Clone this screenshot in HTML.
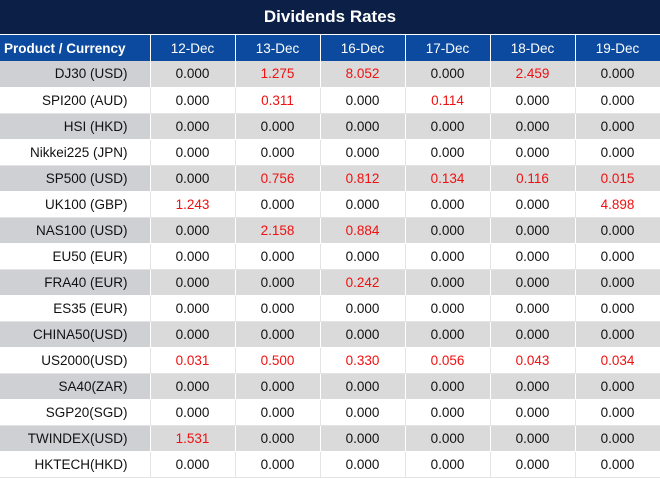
<!DOCTYPE html><html><head><style>
body{margin:0;width:660px;height:478px;overflow:hidden;background:#fff;font-family:"Liberation Sans",sans-serif;}
.t{height:34px;background:#0b1f47;color:#fff;font-weight:bold;font-size:17px;text-align:center;line-height:34px;border-bottom:1px solid #fff}
table{border-collapse:collapse;table-layout:fixed;width:660px}
td{height:26px;padding:0;border-right:1px solid #e4e4e4;border-bottom:1px solid #e4e4e4;text-align:center;font-size:13.5px;color:#111;box-sizing:border-box}
tr.h td{background:#0b4a9e;color:#fff;border-right:1px solid #fff;border-bottom:0;height:26px}
tr.h td:first-child{font-weight:bold;text-align:left;padding-left:4px}
td:first-child{text-align:right;padding-right:22px}
tr.g td{background:#dadada;border-bottom-color:#fff;border-right-color:#fff}
tr.g td:first-child{background:#cfd0d4}
.r{color:#f01010}
</style></head><body>
<div class="t">Dividends Rates</div>
<table>
<colgroup><col style="width:150px"><col style="width:85px"><col style="width:85px"><col style="width:85px"><col style="width:85px"><col style="width:85px"><col style="width:85px"></colgroup>
<tr class="h"><td>Product / Currency</td><td>12-Dec</td><td>13-Dec</td><td>16-Dec</td><td>17-Dec</td><td>18-Dec</td><td>19-Dec</td></tr>
<tr class="g"><td>DJ30 (USD)</td><td>0.000</td><td class="r">1.275</td><td class="r">8.052</td><td>0.000</td><td class="r">2.459</td><td>0.000</td></tr>
<tr><td>SPI200 (AUD)</td><td>0.000</td><td class="r">0.311</td><td>0.000</td><td class="r">0.114</td><td>0.000</td><td>0.000</td></tr>
<tr class="g"><td>HSI (HKD)</td><td>0.000</td><td>0.000</td><td>0.000</td><td>0.000</td><td>0.000</td><td>0.000</td></tr>
<tr><td>Nikkei225 (JPN)</td><td>0.000</td><td>0.000</td><td>0.000</td><td>0.000</td><td>0.000</td><td>0.000</td></tr>
<tr class="g"><td>SP500 (USD)</td><td>0.000</td><td class="r">0.756</td><td class="r">0.812</td><td class="r">0.134</td><td class="r">0.116</td><td class="r">0.015</td></tr>
<tr><td>UK100 (GBP)</td><td class="r">1.243</td><td>0.000</td><td>0.000</td><td>0.000</td><td>0.000</td><td class="r">4.898</td></tr>
<tr class="g"><td>NAS100 (USD)</td><td>0.000</td><td class="r">2.158</td><td class="r">0.884</td><td>0.000</td><td>0.000</td><td>0.000</td></tr>
<tr><td>EU50 (EUR)</td><td>0.000</td><td>0.000</td><td>0.000</td><td>0.000</td><td>0.000</td><td>0.000</td></tr>
<tr class="g"><td>FRA40 (EUR)</td><td>0.000</td><td>0.000</td><td class="r">0.242</td><td>0.000</td><td>0.000</td><td>0.000</td></tr>
<tr><td>ES35 (EUR)</td><td>0.000</td><td>0.000</td><td>0.000</td><td>0.000</td><td>0.000</td><td>0.000</td></tr>
<tr class="g"><td>CHINA50(USD)</td><td>0.000</td><td>0.000</td><td>0.000</td><td>0.000</td><td>0.000</td><td>0.000</td></tr>
<tr><td>US2000(USD)</td><td class="r">0.031</td><td class="r">0.500</td><td class="r">0.330</td><td class="r">0.056</td><td class="r">0.043</td><td class="r">0.034</td></tr>
<tr class="g"><td>SA40(ZAR)</td><td>0.000</td><td>0.000</td><td>0.000</td><td>0.000</td><td>0.000</td><td>0.000</td></tr>
<tr><td>SGP20(SGD)</td><td>0.000</td><td>0.000</td><td>0.000</td><td>0.000</td><td>0.000</td><td>0.000</td></tr>
<tr class="g"><td>TWINDEX(USD)</td><td class="r">1.531</td><td>0.000</td><td>0.000</td><td>0.000</td><td>0.000</td><td>0.000</td></tr>
<tr><td>HKTECH(HKD)</td><td>0.000</td><td>0.000</td><td>0.000</td><td>0.000</td><td>0.000</td><td>0.000</td></tr>
</table>
</body></html>
